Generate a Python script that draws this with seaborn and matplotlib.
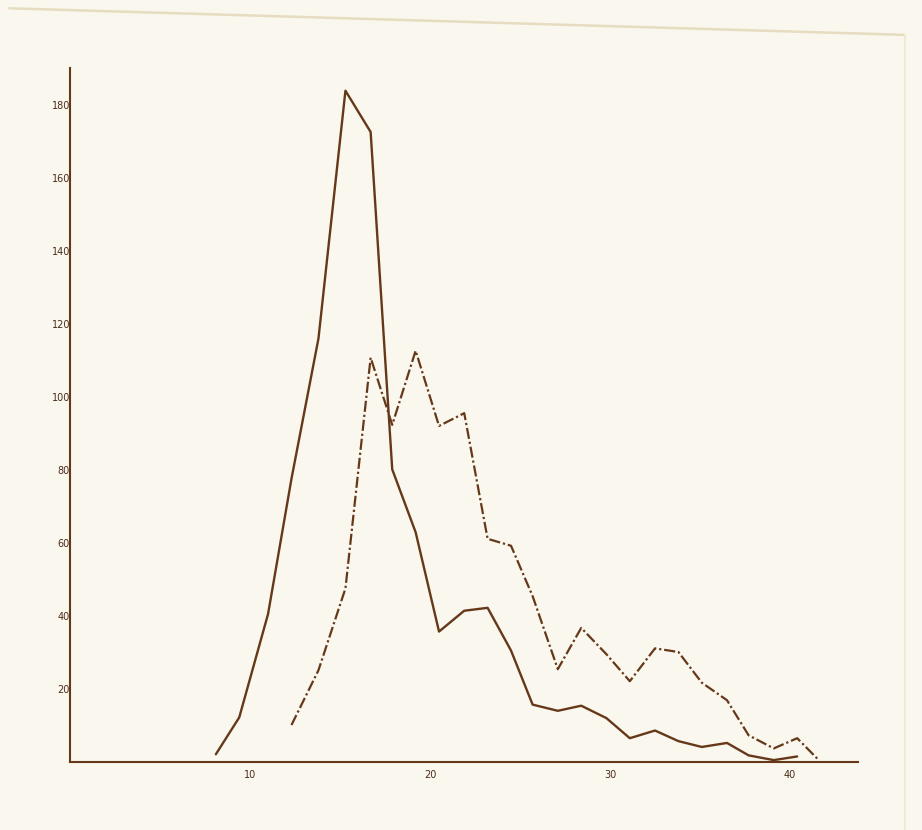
import pandas as pd
import numpy as np
import matplotlib
matplotlib.use('Agg')
import matplotlib.pyplot as plt
import seaborn as sns
from matplotlib.lines import Line2D

# values
x_solid = [8.1, 9.4, 11.0, 12.3, 13.8, 15.3, 16.7, 17.9, 19.2, 20.5, 21.9, 23.2, 24.5,
           25.7, 27.1, 28.4, 29.8, 31.1, 32.5, 33.8, 35.1, 36.5, 37.7, 39.1, 40.4]
y_solid = [2.1, 12.2, 40.5, 77.5, 115.9, 183.8, 172.5, 80.1, 62.9, 35.7, 41.4, 42.2, 30.5,
           15.7, 14.0, 15.4, 12.0, 6.5, 8.6, 5.7, 4.1, 5.2, 1.8, 0.5, 1.5]

x_dash = [12.3, 13.8, 15.3, 16.7, 17.9, 19.2, 20.5, 21.9, 23.2, 24.5, 25.7, 27.1,
          28.4, 29.8, 31.1, 32.5, 33.8, 35.1, 36.5, 37.7, 39.1, 40.4, 41.6]
y_dash = [10.1, 25.1, 47.5, 110.7, 92.3, 112.6, 92.0, 95.5, 61.1, 59.2, 45.4, 25.4,
          36.7, 29.5, 22.1, 31.1, 30.1, 21.7, 16.9, 7.3, 3.7, 6.5, 0.5]

x_ticks = [10, 20, 30, 40]
y_ticks = [20, 40, 60, 80, 100, 120, 140, 160, 180]

ink = '#66381a'
paper = '#faf7ee'

sns.set_style('white')

fig = plt.figure(figsize=(9.22, 8.3), dpi=100, facecolor=paper)
ax = fig.add_axes([0.076, 0.082, 0.855, 0.836])
ax.set_facecolor(paper)

df_solid = pd.DataFrame({'x': x_solid, 'y': y_solid})
df_dash = pd.DataFrame({'x': x_dash, 'y': y_dash})

sns.lineplot(data=df_solid, x='x', y='y', ax=ax, color=ink, linewidth=1.7,
             sort=False, estimator=None)
sns.lineplot(data=df_dash, x='x', y='y', ax=ax, color=ink, linewidth=1.6,
             sort=False, estimator=None, linestyle=(0, (5, 1.3, 1, 1.3)))

ax.set_xlim(0, 43.8)
ax.set_ylim(0, 190)
ax.set_xticks(x_ticks)
ax.set_yticks(y_ticks)
ax.tick_params(axis='both', length=0, labelsize=7, labelcolor='#4a2c18')
ax.tick_params(axis='x', pad=6)
ax.tick_params(axis='y', pad=0)
ax.set_xlabel('')
ax.set_ylabel('')

for side in ['top', 'right']:
    ax.spines[side].set_visible(False)
for side in ['left', 'bottom']:
    ax.spines[side].set_color(ink)
    ax.spines[side].set_linewidth(1.5)

# faint edge of the scanned sheet
fig.add_artist(Line2D([0.01, 0.98], [0.99, 0.958], transform=fig.transFigure,
                      color='#e6dcc0', linewidth=1.8))
fig.add_artist(Line2D([0.982, 0.982], [0.958, 0.0], transform=fig.transFigure,
                      color='#efe7d0', linewidth=1.2))

fig.savefig('out.png', dpi=100, facecolor=paper)
